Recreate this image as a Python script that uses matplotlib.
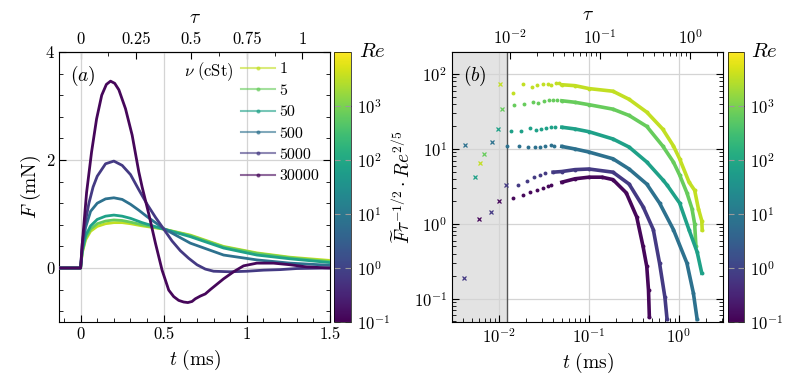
import numpy as np
import matplotlib
matplotlib.use("Agg")
import matplotlib.pyplot as plt
from matplotlib.colors import LogNorm
from matplotlib.cm import ScalarMappable
from matplotlib.lines import Line2D
from matplotlib.ticker import MultipleLocator, LogLocator, NullFormatter

plt.rcParams["font.family"] = "serif"
plt.rcParams["font.serif"] = ["cmr10", "DejaVu Serif"]
plt.rcParams["mathtext.fontset"] = "cm"
plt.rcParams["axes.formatter.use_mathtext"] = True

# viscosities and Reynolds numbers
nu = [1, 5, 50, 500, 5000, 30000]
Re = [3500, 700, 70, 7, 0.7, 0.12]

# (a) force vs time, ms / mN
t_a = {
    1:     [-0.13, 0, 0.01, 0.03, 0.06, 0.1, 0.15, 0.2, 0.25, 0.3, 0.37, 0.5, 0.66, 0.86, 1.06, 1.26, 1.5],
    5:     [-0.13, 0, 0.01, 0.03, 0.06, 0.1, 0.15, 0.2, 0.25, 0.3, 0.37, 0.5, 0.66, 0.86, 1.06, 1.26, 1.5],
    50:    [-0.13, 0, 0.01, 0.03, 0.06, 0.1, 0.15, 0.2, 0.25, 0.3, 0.37, 0.5, 0.66, 0.86, 1.06, 1.26, 1.5],
    500:   [-0.13, 0, 0.01, 0.03, 0.06, 0.1, 0.15, 0.2, 0.25, 0.3, 0.35, 0.4, 0.45, 0.5, 0.66, 0.86, 1.06, 1.26, 1.5],
    5000:  [-0.13, 0, 0.01, 0.025, 0.05, 0.075, 0.1, 0.15, 0.2, 0.25, 0.3, 0.35, 0.4, 0.45, 0.5, 0.55, 0.6,
            0.65, 0.7, 0.75, 0.8, 0.9, 1.0, 1.1, 1.2, 1.3, 1.5],
    30000: [-0.13, -0.05, 0, 0.01, 0.036, 0.066, 0.096, 0.127, 0.155, 0.18, 0.205, 0.23, 0.27, 0.31, 0.35,
            0.37, 0.41, 0.45, 0.49, 0.53, 0.56, 0.59, 0.62, 0.645, 0.67, 0.69, 0.72, 0.75, 0.78, 0.82, 0.86,
            0.92, 0.98, 1.06, 1.16, 1.26, 1.36, 1.5],
}
F_a = {
    1:     [0, 0, 0.28, 0.52, 0.68, 0.77, 0.82, 0.84, 0.84, 0.82, 0.78, 0.72, 0.61, 0.40, 0.28, 0.20, 0.14],
    5:     [0, 0, 0.30, 0.55, 0.72, 0.82, 0.87, 0.89, 0.88, 0.85, 0.80, 0.72, 0.60, 0.39, 0.27, 0.19, 0.12],
    50:    [0, 0, 0.32, 0.60, 0.78, 0.90, 0.96, 0.98, 0.96, 0.92, 0.84, 0.72, 0.58, 0.37, 0.24, 0.17, 0.10],
    500:   [0, 0, 0.35, 0.75, 1.05, 1.20, 1.28, 1.30, 1.27, 1.18, 1.07, 0.95, 0.84, 0.73, 0.46, 0.24, 0.15, 0.09, 0.05],
    5000:  [0, 0, 0.45, 0.80, 1.20, 1.50, 1.70, 1.93, 1.98, 1.90, 1.73, 1.45, 1.18, 0.94, 0.72, 0.50, 0.32,
            0.18, 0.06, -0.02, -0.06, -0.07, -0.06, -0.04, -0.03, -0.01, 0.0],
    30000: [0, 0, 0, 0.45, 1.4, 2.15, 2.76, 3.2, 3.4, 3.46, 3.42, 3.3, 2.95, 2.46, 1.78,
            1.5, 1.0, 0.46, -0.04, -0.41, -0.53, -0.6, -0.63, -0.64, -0.62, -0.57, -0.52, -0.48, -0.4, -0.3, -0.2,
            -0.07, 0.04, 0.09, 0.09, 0.06, 0.02, 0.0],
}

# (b) rescaled force, early points (crosses, inside grey band)
tx_b = {1: [0.0062, 0.0103], 5: [0.0068, 0.0108], 50: [0.0054, 0.0097],
        500: [0.0042, 0.0084], 5000: [0.0041, 0.0082, 0.0119], 30000: [0.006, 0.0101]}
yx_b = {1: [6.5, 73.6], 5: [8.6, 34], 50: [4.2, 18.4],
        500: [11.3, 12.3], 5000: [0.19, 1.45, 3.3], 30000: [1.17, 2.0]}
# sparse dots
td_b = {
    1:     [0.0143, 0.0185, 0.0233, 0.0265, 0.0308, 0.035, 0.038, 0.043, 0.046],
    5:     [0.0147, 0.019, 0.024, 0.027, 0.032, 0.036, 0.040, 0.044],
    50:    [0.0136, 0.0176, 0.0221, 0.0258, 0.0293, 0.033, 0.038, 0.042],
    500:   [0.0123, 0.0167, 0.021, 0.025, 0.0285, 0.0325, 0.038, 0.041],
    5000:  [0.0162, 0.0205, 0.0245, 0.0285, 0.0325],
    30000: [0.0143, 0.0185, 0.022, 0.0265, 0.031, 0.035, 0.038],
}
yd_b = {
    1:     [56, 73, 67, 71, 73, 73, 71, 76, 76],
    5:     [39, 40, 42, 41, 44, 45, 45, 45],
    50:    [17.3, 17.3, 19, 18, 18.5, 19, 19.6, 19.7],
    500:   [11, 11, 10.6, 10.6, 10.6, 11, 11.3, 11],
    5000:  [3.3, 3.7, 4.2, 4.5, 4.8],
    30000: [2.2, 2.4, 2.7, 2.85, 3.0, 3.2, 3.3],
}
# dense part
tc_b = {
    1:     [0.05, 0.07, 0.1, 0.185, 0.28, 0.44, 0.66, 0.87, 1.02, 1.3, 1.5, 1.65, 1.8, 1.82],
    5:     [0.05, 0.07, 0.1, 0.185, 0.28, 0.44, 0.66, 0.87, 1.02, 1.23, 1.4, 1.5, 1.55],
    50:    [0.05, 0.07, 0.1, 0.185, 0.28, 0.44, 0.66, 0.74, 1.02, 1.3, 1.6, 1.8],
    500:   [0.05, 0.07, 0.1, 0.185, 0.28, 0.44, 0.61, 0.87, 1.23, 1.45, 1.6],
    5000:  [0.04, 0.05, 0.07, 0.1, 0.185, 0.28, 0.40, 0.52, 0.61, 0.70, 0.74],
    30000: [0.05, 0.07, 0.1, 0.14, 0.185, 0.26, 0.34, 0.40, 0.44, 0.46, 0.47],
}
yc_b = {
    1:     [72, 70, 64, 59, 46, 31, 18.5, 11, 7.4, 3.6, 2.8, 1.6, 1.1, 0.83],
    5:     [44, 42, 39, 34, 28, 20, 11, 6.7, 4.5, 2.6, 1.6, 1.0, 0.5],
    50:    [19.5, 18.5, 17, 13.6, 10.6, 6.7, 3.9, 3.3, 1.9, 0.83, 0.42, 0.22],
    500:   [10.8, 10, 9.1, 7.4, 5.4, 3.4, 1.9, 0.84, 0.3, 0.12, 0.053],
    5000:  [4.9, 5.0, 5.3, 5.4, 4.9, 3.4, 1.7, 0.84, 0.3, 0.105, 0.053],
    30000: [3.6, 4.0, 4.2, 4.2, 3.9, 2.6, 1.24, 0.5, 0.27, 0.13, 0.058],
}
t_shade = 0.0122

norm = LogNorm(vmin=0.1, vmax=1e4)
cmap = plt.get_cmap("viridis")
colors = {n: cmap(norm(r)) for n, r in zip(nu, Re)}

fig = plt.figure(figsize=(7.88, 3.83), dpi=100)
ax1 = fig.add_axes([59 / 788, 61 / 383, 271 / 788, 270 / 383])
cax1 = fig.add_axes([334 / 788, 61 / 383, 17 / 788, 270 / 383])
ax2 = fig.add_axes([452 / 788, 61 / 383, 271 / 788, 270 / 383])
cax2 = fig.add_axes([728 / 788, 61 / 383, 16 / 788, 270 / 383])

grid_kw = dict(color="#d4d4d4", lw=0.9)

# ---------- (a)
for n in nu:
    ax1.plot(t_a[n], F_a[n], "-", color=colors[n], lw=2.0, zorder=3)
ax1.set_xlim(-0.13, 1.5)
ax1.set_ylim(-1, 4)
ax1.set_xticks([0, 0.5, 1, 1.5])
ax1.set_xticklabels(["0", "0.5", "1", "1.5"])
ax1.set_yticks([0, 2, 4])
ax1.set_yticklabels(["0", "2", "4"])
ax1.xaxis.set_minor_locator(MultipleLocator(0.1))
ax1.yaxis.set_minor_locator(MultipleLocator(0.4))
ax1.grid(True, which="major", **grid_kw)
ax1.set_axisbelow(True)
ax1.tick_params(which="both", direction="in", labelsize=12, right=True)
ax1.tick_params(which="major", length=5)
ax1.tick_params(which="minor", length=3)
ax1.set_xlabel(r"$t\ (\mathrm{ms})$", fontsize=14, labelpad=4)
ax1.set_ylabel(r"$F\ (\mathrm{mN})$", fontsize=14, labelpad=2)
ax1.text(0.04, 0.955, r"$(a)$", transform=ax1.transAxes, fontsize=14, va="top", ha="left")

top1 = ax1.secondary_xaxis("top", functions=(lambda x: 0.75 * x, lambda x: x / 0.75))
top1.set_xticks([0, 0.25, 0.5, 0.75, 1])
top1.set_xticklabels(["0", "0.25", "0.5", "0.75", "1"])
top1.xaxis.set_minor_locator(MultipleLocator(0.125))
top1.tick_params(which="both", direction="in", labelsize=12)
top1.tick_params(which="major", length=5)
top1.tick_params(which="minor", length=3)
top1.set_xlabel(r"$\tau$", fontsize=14, labelpad=6)

handles = [Line2D([], [], color=colors[n], lw=1.5, marker="o", ms=2, alpha=0.6) for n in nu]
ax1.legend(handles, [str(n) for n in nu], loc="upper left", bbox_to_anchor=(0.67, 0.962),
           frameon=False, fontsize=11.5, handlelength=2.15, handletextpad=0.3,
           labelspacing=0.45, borderpad=0, borderaxespad=0)
ax1.text(0.645, 0.927, r"$\nu\ (\mathrm{cSt})$", transform=ax1.transAxes, fontsize=12,
         ha="right", va="center")

# ---------- (b)
ax2.set_xscale("log")
ax2.set_yscale("log")
ax2.set_xlim(0.003, 3.1)
ax2.set_ylim(0.049, 197)
ax2.axvspan(0.003, t_shade, color="#e3e3e3", zorder=0.1, lw=0)
ax2.axvline(t_shade, color="#555555", lw=1.0, zorder=2)
for n in nu:
    c = colors[n]
    ax2.plot(tx_b[n], yx_b[n], "x", color=c, ms=3.5, mew=0.9, zorder=3)
    ax2.plot(td_b[n], yd_b[n], "o", color=c, ms=2.8, mew=0, zorder=3)
    ax2.plot(tc_b[n], yc_b[n], "-o", color=c, lw=2.6, ms=2.8, mew=0, zorder=3)
ax2.set_xticks([0.01, 0.1, 1])
ax2.set_yticks([0.1, 1, 10, 100])
ax2.xaxis.set_minor_locator(LogLocator(base=10, subs=np.arange(2, 10)))
ax2.yaxis.set_minor_locator(LogLocator(base=10, subs=np.arange(2, 10)))
ax2.xaxis.set_minor_formatter(NullFormatter())
ax2.yaxis.set_minor_formatter(NullFormatter())
ax2.grid(True, which="major", **grid_kw)
ax2.set_axisbelow(True)
ax2.tick_params(which="both", direction="in", labelsize=12, right=True)
ax2.tick_params(which="major", length=5)
ax2.tick_params(which="minor", length=3)
ax2.set_xlabel(r"$t\ (\mathrm{ms})$", fontsize=14, labelpad=4)
ax2.set_ylabel(r"$\widetilde{F}\tau^{-1/2}\cdot Re^{2/5}$", fontsize=14, labelpad=0)
ax2.text(0.04, 0.955, r"$(b)$", transform=ax2.transAxes, fontsize=14, va="top", ha="left")

top2 = ax2.secondary_xaxis("top", functions=(lambda x: 0.75 * x, lambda x: x / 0.75))
top2.set_xticks([0.01, 0.1, 1])
top2.xaxis.set_minor_locator(LogLocator(base=10, subs=np.arange(2, 10)))
top2.xaxis.set_minor_formatter(NullFormatter())
top2.tick_params(which="both", direction="in", labelsize=12)
top2.tick_params(which="major", length=5)
top2.tick_params(which="minor", length=3)
top2.set_xlabel(r"$\tau$", fontsize=14, labelpad=6)

# ---------- colorbars
for cax in (cax1, cax2):
    sm = ScalarMappable(norm=norm, cmap=cmap)
    cb = fig.colorbar(sm, cax=cax)
    cb.set_ticks([0.1, 1, 10, 100, 1000])
    cb.ax.minorticks_off()
    cb.ax.tick_params(direction="in", length=4, color="#9a9a9a", labelsize=12, left=True, pad=4)
    cb.outline.set_linewidth(0.5)
    cax.text(1.45, 1.0, r"$Re$", transform=cax.transAxes, fontsize=15, ha="left", va="center")

fig.savefig("out.png", dpi=100)
